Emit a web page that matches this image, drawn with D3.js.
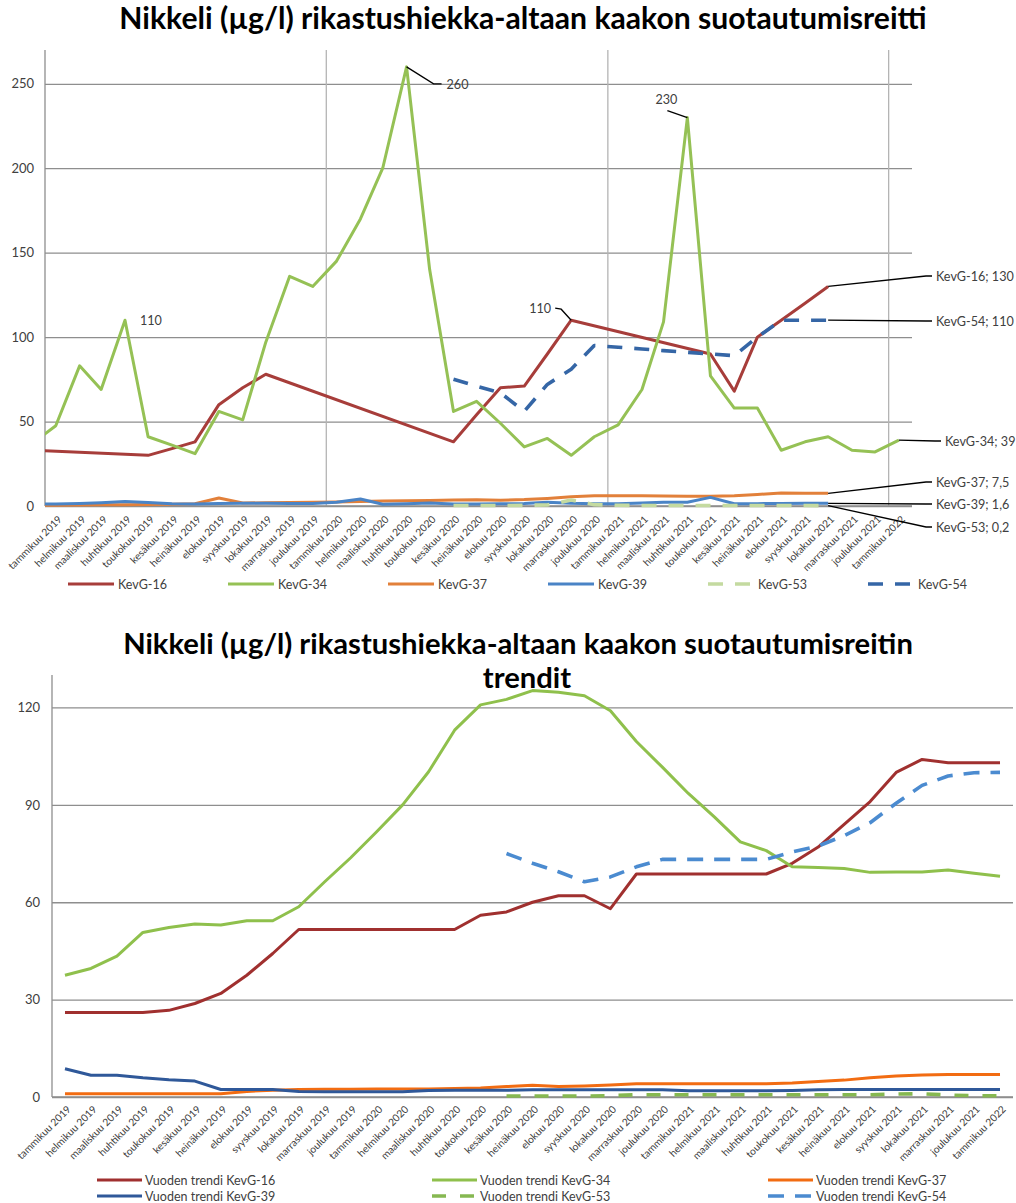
<!DOCTYPE html>
<html>
<head>
<meta charset="utf-8">
<script src="https://cdn.jsdelivr.net/npm/d3@7"></script>
<style>
  html, body { margin: 0; padding: 0; background: #ffffff; }
  svg text { font-family: Lato, "Open Sans", "Noto Sans", sans-serif; fill: #404040; }
</style>
</head>
<body>
<svg id="chart" width="1016" height="1203"></svg>
<script>
// ---------------- Monitoring data (nickel, µg/l) ----------------
// Sampling months of the monthly samples (taken mid-month)
const sampleMonths = [
  "2018-12",
  "2019-01","2019-02","2019-03","2019-04","2019-05","2019-06","2019-07","2019-08","2019-09","2019-10","2019-11","2019-12",
  "2020-01","2020-02","2020-03","2020-04","2020-05","2020-06","2020-07","2020-08","2020-09","2020-10","2020-11","2020-12",
  "2021-01","2021-02","2021-03","2021-04","2021-05","2021-06","2021-07","2021-08","2021-09","2021-10","2021-11","2021-12",
  "2022-01"
];

const kevg16 = [33,
  null,null,null,null,30,34,38,60,70,78,null,null,
  null,null,null,null,null,38,54,70,71,90,110,null,
  null,null,null,null,90,68,100,110,120,130,null,null,
  null];
const kevg34 = [37,
  47.5,83,69,110,41,36,31,56,51,97,136,130,
  145,170,200,260,140,56,62,49,35,40,30,41,
  48,69,109,230,77,58,58,33,38,41,33,32,
  39];
const kevg37 = [0.5,
  0.5,0.6,0.7,0.8,0.9,1.0,1.3,4.7,1.8,1.9,2.0,2.2,
  2.4,2.6,2.9,3.1,3.3,3.5,3.7,3.4,3.8,4.5,5.5,6.1,
  6.0,6.0,5.9,5.8,5.8,6.0,6.8,7.7,7.6,7.5,null,null,
  null];
const kevg39 = [1.2,
  1.2,1.5,1.9,2.6,2.0,1.4,1.2,1.5,1.7,1.6,1.5,1.5,
  2.2,4.1,1.0,1.4,1.8,1.2,1.2,1.3,1.5,2.2,1.6,1.4,
  1.4,1.8,2.2,2.2,5.1,1.3,1.4,1.5,1.6,1.6,null,null,
  null];
const kevg53 = [null,
  null,null,null,null,null,null,null,null,null,null,null,null,
  null,null,null,null,null,0.3,0.3,0.3,0.4,0.6,3.5,0.8,
  0.4,0.3,0.3,0.3,0.3,0.3,0.3,0.3,0.3,0.2,null,null,
  null];
const kevg54 = [null,
  null,null,null,null,null,null,null,null,null,null,null,null,
  null,null,null,null,null,75,71,67,56,72,81,95,
  94,93,92,91,90,89,100,110,110,110,null,null,
  null];

// Month labels on the category axis
const categories = [
  "tammikuu 2019","helmikuu 2019","maaliskuu 2019","huhtikuu 2019","toukokuu 2019","kesäkuu 2019",
  "heinäkuu 2019","elokuu 2019","syyskuu 2019","lokakuu 2019","marraskuu 2019","joulukuu 2019",
  "tammikuu 2020","helmikuu 2020","maaliskuu 2020","huhtikuu 2020","toukokuu 2020","kesäkuu 2020",
  "heinäkuu 2020","elokuu 2020","syyskuu 2020","lokakuu 2020","marraskuu 2020","joulukuu 2020",
  "tammikuu 2021","helmikuu 2021","maaliskuu 2021","huhtikuu 2021","toukokuu 2021","kesäkuu 2021",
  "heinäkuu 2021","elokuu 2021","syyskuu 2021","lokakuu 2021","marraskuu 2021","joulukuu 2021",
  "tammikuu 2022"
];

// One-year moving trends, one value per category month
const trend16 = [26,26,26,26,26.7,28.8,31.9,37.5,44.2,51.6,51.6,51.6,51.6,51.6,51.6,51.6,56,57,60,62,62,58,
  68.7,68.7,68.7,68.7,68.7,68.7,72,77,84,91,100,104,103,103,103];
const trend34 = [37.5,39.6,43.4,50.7,52.2,53.3,53,54.3,54.3,58.6,66.3,73.7,81.7,90,100.2,113,120.8,122.5,125.2,
  124.7,123.6,119,109.5,101.6,93.5,86.3,78.6,75.9,70.9,70.7,70.4,69.2,69.3,69.3,69.9,68.9,68];
const trend37 = [1.0,1.0,1.0,1.0,1.0,1.0,1.0,1.7,2.1,2.3,2.4,2.4,2.5,2.5,2.5,2.6,2.8,3.2,3.6,3.2,3.4,3.7,
  4.1,4.1,4.1,4.1,4.1,4.1,4.3,4.8,5.2,5.9,6.5,6.8,6.9,6.9,6.9];
const trend39 = [8.7,6.7,6.7,5.9,5.3,4.9,2.3,2.3,2.3,1.7,1.6,1.6,1.6,1.6,2.0,2.1,2.1,2.1,2.2,2.2,2.2,2.2,
  2.2,2.2,1.9,1.9,1.9,1.9,2.0,2.2,2.3,2.3,2.3,2.3,2.3,2.3,2.3];
const trend53 = [null,null,null,null,null,null,null,null,null,null,null,null,null,null,null,null,null,
  0.3,0.3,0.3,0.3,0.4,0.7,0.7,0.7,0.7,0.7,0.7,0.7,0.7,0.7,0.7,0.9,1.0,0.6,0.4,0.4];
const trend54 = [null,null,null,null,null,null,null,null,null,null,null,null,null,null,null,null,null,
  75,72,69.4,66.3,67.8,70.9,73.2,73.2,73.2,73.2,73.2,75.5,77.3,80.5,84.5,90.5,96,98.9,99.9,100];

const yTicks1 = [0, 50, 100, 150, 200, 250];
const yTicks2 = [0, 30, 60, 90, 120];

const title1 = "Nikkeli (µg/l) rikastushiekka-altaan kaakon suotautumisreitti";
const title2 = ["Nikkeli (µg/l) rikastushiekka-altaan kaakon suotautumisreitin", "trendit"];

// ---------------- Drawing ----------------
const svg = d3.select("#chart");
const FONT = 'Lato, "Open Sans", "Noto Sans", sans-serif';
const GRID = "#8e8e8e";
const TXT = "#404040";

const series1 = [
  { name: "KevG-16", values: kevg16, color: "#a73d3a", dash: null },
  { name: "KevG-34", values: kevg34, color: "#95c155", dash: null },
  { name: "KevG-37", values: kevg37, color: "#e2803a", dash: null },
  { name: "KevG-39", values: kevg39, color: "#4a84c6", dash: null },
  { name: "KevG-53", values: kevg53, color: "#c4daa0", dash: "15,12" },
  { name: "KevG-54", values: kevg54, color: "#3566a6", dash: "15,12" }
];
const series2 = [
  { name: "Vuoden trendi KevG-16", values: trend16, color: "#a0302f", dash: null },
  { name: "Vuoden trendi KevG-34", values: trend34, color: "#8fc04c", dash: null },
  { name: "Vuoden trendi KevG-37", values: trend37, color: "#f26c12", dash: null },
  { name: "Vuoden trendi KevG-39", values: trend39, color: "#2f5899", dash: null },
  { name: "Vuoden trendi KevG-53", values: trend53, color: "#86b851", dash: "14,14" },
  { name: "Vuoden trendi KevG-54", values: trend54, color: "#4b8bd0", dash: "16,11" }
];

function fitTitle(sel, targetWidth, baseSize) {
  sel.attr("font-size", baseSize);
  const w = sel.node().getComputedTextLength();
  sel.attr("font-size", baseSize * targetWidth / w);
  return baseSize * targetWidth / w;
}

// ===== Chart 1: measurements on a date axis =====
const c1 = { left: 45, right: 912, top: 50, bottom: 506 };
const parseMonth = d3.timeParse("%Y-%m-%d");
const sampleDates = sampleMonths.map(m => parseMonth(m + "-15"));
const monthStarts = categories.map((c, i) => new Date(2019, i, 1));

const x1 = d3.scaleTime().domain([new Date(2019, 0, 1), new Date(2022, 1, 1)]).range([c1.left, c1.right]);
const y1 = d3.scaleLinear().domain([0, 270]).range([c1.bottom, c1.top]);

const t1 = svg.append("text").attr("x", 523).attr("y", 29).attr("text-anchor", "middle")
  .attr("font-weight", "bold").style("fill", "#000").text(title1);
fitTitle(t1, 808, 26);

// horizontal grid + y labels
svg.append("g").attr("transform", `translate(${c1.left},0)`)
  .call(d3.axisLeft(y1).tickValues(yTicks1).tickSize(-(c1.right - c1.left)).tickPadding(11).tickFormat(d3.format("d")))
  .call(g => {
    g.select(".domain").remove();
    g.selectAll(".tick line").attr("stroke", GRID).attr("stroke-width", 1.3);
    g.selectAll(".tick text").attr("font-size", 13).attr("font-family", FONT).style("fill", TXT);
  });

// yearly vertical grid
svg.append("g").attr("transform", `translate(0,${c1.bottom})`)
  .call(d3.axisBottom(x1).tickValues([new Date(2020,0,1), new Date(2021,0,1), new Date(2022,0,1)])
    .tickSize(-(c1.bottom - c1.top)).tickFormat(""))
  .call(g => {
    g.select(".domain").remove();
    g.selectAll(".tick line").attr("stroke", "#b4b4b4").attr("stroke-width", 1.3);
  });

// axis lines
svg.append("line").attr("x1", c1.left).attr("x2", c1.left).attr("y1", c1.top).attr("y2", c1.bottom)
  .attr("stroke", GRID).attr("stroke-width", 1.3);
svg.append("line").attr("x1", c1.left).attr("x2", c1.right).attr("y1", c1.bottom).attr("y2", c1.bottom)
  .attr("stroke", GRID).attr("stroke-width", 1.3);

// month labels
svg.append("g").attr("transform", `translate(0,${c1.bottom})`)
  .call(d3.axisBottom(x1).tickValues(monthStarts).tickSize(0).tickFormat((d, i) => categories[i]))
  .call(g => {
    g.select(".domain").remove();
    g.selectAll(".tick text")
      .attr("x", 0).attr("y", 0).attr("dy", 0)
      .attr("text-anchor", "end")
      .attr("transform", "translate(17,14) rotate(-45)")
      .attr("font-size", 10.2).attr("font-family", FONT).style("fill", TXT);
  });

// lines (clipped to the plot area)
svg.append("clipPath").attr("id", "clip1").append("rect")
  .attr("x", c1.left).attr("y", c1.top - 10).attr("width", c1.right - c1.left).attr("height", c1.bottom - c1.top + 12);

const line1 = d3.line().x(d => x1(d.date)).y(d => y1(d.v));
const plot1 = svg.append("g").attr("clip-path", "url(#clip1)");
series1.forEach(s => {
  const pts = s.values.map((v, i) => ({ date: sampleDates[i], v })).filter(d => d.v != null);
  s.points = pts;
  plot1.append("path").datum(pts)
    .attr("d", line1).attr("fill", "none")
    .attr("stroke", s.color).attr("stroke-width", s.dash ? 3.6 : 3)
    .attr("stroke-dasharray", s.dash)
    .attr("stroke-linejoin", "round");
});

// data labels with leader lines
const fmt = v => String(v).replace(".", ",");
const ann = svg.append("g");
function leader(pts) {
  ann.append("polyline").attr("points", pts.map(p => p.join(",")).join(" "))
    .attr("fill", "none").attr("stroke", "#000").attr("stroke-width", 1.3);
}
function label(x, y, txt, anchor) {
  ann.append("text").attr("x", x).attr("y", y).attr("text-anchor", anchor || "start")
    .attr("font-size", 12.6).attr("font-family", FONT).style("fill", TXT).text(txt);
}
const pt = (s, month) => {
  const i = sampleMonths.indexOf(month);
  return [x1(sampleDates[i]), y1(s.values[i]), s.values[i]];
};
{
  const s34 = series1[1];
  let [px, py, v] = pt(s34, "2019-04");
  label(px + 15, py + 5, fmt(v));
  [px, py, v] = pt(s34, "2020-04");
  leader([[px, py], [px + 27, py + 17], [px + 35, py + 17]]);
  label(px + 40, py + 22, fmt(v));
  [px, py, v] = pt(s34, "2021-04");
  leader([[px, py], [px - 20, py - 7]]);
  label(px - 21, py - 14, fmt(v), "middle");
  const s16 = series1[0];
  [px, py, v] = pt(s16, "2020-11");
  leader([[px, py], [px - 10, py - 11], [px - 16, py - 12]]);
  label(px - 20, py - 7, fmt(v), "end");
}
// end-of-series labels on the right
const endLabels = [
  { s: 0, ty: 276 },
  { s: 5, ty: 321 },
  { s: 1, ty: 441 },
  { s: 2, ty: 482 },
  { s: 3, ty: 504 },
  { s: 4, ty: 527 }
];
endLabels.forEach(e => {
  const s = series1[e.s];
  const last = s.points[s.points.length - 1];
  const px = x1(last.date), py = y1(last.v);
  const tx = e.s === 1 ? 945 : 936;
  leader([[px, py], [tx - 10, e.ty], [tx - 4, e.ty]]);
  label(tx, e.ty + 4.5, `${s.name}; ${fmt(last.v)}`);
});

// legend
const leg1 = svg.append("g");
series1.forEach((s, k) => {
  const lx = 68 + k * 160, ly = 584;
  leg1.append("line").attr("x1", lx).attr("x2", lx + 46).attr("y1", ly).attr("y2", ly)
    .attr("stroke", s.color).attr("stroke-width", s.dash ? 3.6 : 3.2).attr("stroke-dasharray", s.dash);
  leg1.append("text").attr("x", lx + 50).attr("y", ly + 4.5)
    .attr("font-size", 12.5).attr("font-family", FONT).style("fill", TXT).text(s.name);
});

// ===== Chart 2: yearly trends on a category axis =====
const c2 = { left: 52, right: 1013, top: 675, bottom: 1097 };
const x2 = d3.scalePoint().domain(categories).range([c2.left, c2.right]).padding(0.5);
const y2 = d3.scaleLinear().domain([0, 130]).range([c2.bottom, c2.top]);

const tA = svg.append("text").attr("x", 518).attr("y", 654).attr("text-anchor", "middle")
  .attr("font-weight", "bold").style("fill", "#000").text(title2[0]);
const fs2 = fitTitle(tA, 790, 26);
svg.append("text").attr("x", 527).attr("y", 688).attr("text-anchor", "middle")
  .attr("font-weight", "bold").attr("font-size", fs2).style("fill", "#000").text(title2[1]);

svg.append("g").attr("transform", `translate(${c2.left},0)`)
  .call(d3.axisLeft(y2).tickValues(yTicks2).tickSize(-(c2.right - c2.left)).tickPadding(12).tickFormat(d3.format("d")))
  .call(g => {
    g.select(".domain").remove();
    g.selectAll(".tick line").attr("stroke", GRID).attr("stroke-width", 1.3);
    g.selectAll(".tick text").attr("font-size", 13).attr("font-family", FONT).style("fill", TXT);
  });
svg.append("line").attr("x1", c2.left).attr("x2", c2.left).attr("y1", c2.top).attr("y2", c2.bottom)
  .attr("stroke", GRID).attr("stroke-width", 1.3);
svg.append("line").attr("x1", c2.left).attr("x2", c2.right).attr("y1", c2.bottom).attr("y2", c2.bottom)
  .attr("stroke", GRID).attr("stroke-width", 1.3);

svg.append("g").attr("transform", `translate(0,${c2.bottom})`)
  .call(d3.axisBottom(x2).tickSize(0))
  .call(g => {
    g.select(".domain").remove();
    g.selectAll(".tick text")
      .attr("x", 0).attr("y", 0).attr("dy", 0)
      .attr("text-anchor", "end")
      .attr("transform", "translate(6,13) rotate(-45)")
      .attr("font-size", 10.2).attr("font-family", FONT).style("fill", TXT);
  });

const line2 = d3.line().defined(d => d.v != null).x(d => x2(d.c)).y(d => y2(d.v));
series2.forEach(s => {
  svg.append("path").datum(s.values.map((v, i) => ({ c: categories[i], v })))
    .attr("d", line2).attr("fill", "none")
    .attr("stroke", s.color).attr("stroke-width", s.dash ? 3.6 : 3)
    .attr("stroke-dasharray", s.dash).attr("stroke-linejoin", "round");
});

const leg2 = svg.append("g");
series2.forEach((s, k) => {
  const col = k % 3, row = Math.floor(k / 3);
  const lx = [97, 432, 768][col], ly = 1180 + row * 16;
  leg2.append("line").attr("x1", lx).attr("x2", lx + 45).attr("y1", ly).attr("y2", ly)
    .attr("stroke", s.color).attr("stroke-width", s.dash ? 3.6 : 3.2).attr("stroke-dasharray", s.dash);
  leg2.append("text").attr("x", lx + 48).attr("y", ly + 4.5)
    .attr("font-size", 12.5).attr("font-family", FONT).style("fill", TXT).text(s.name);
});
</script>
</body>
</html>
